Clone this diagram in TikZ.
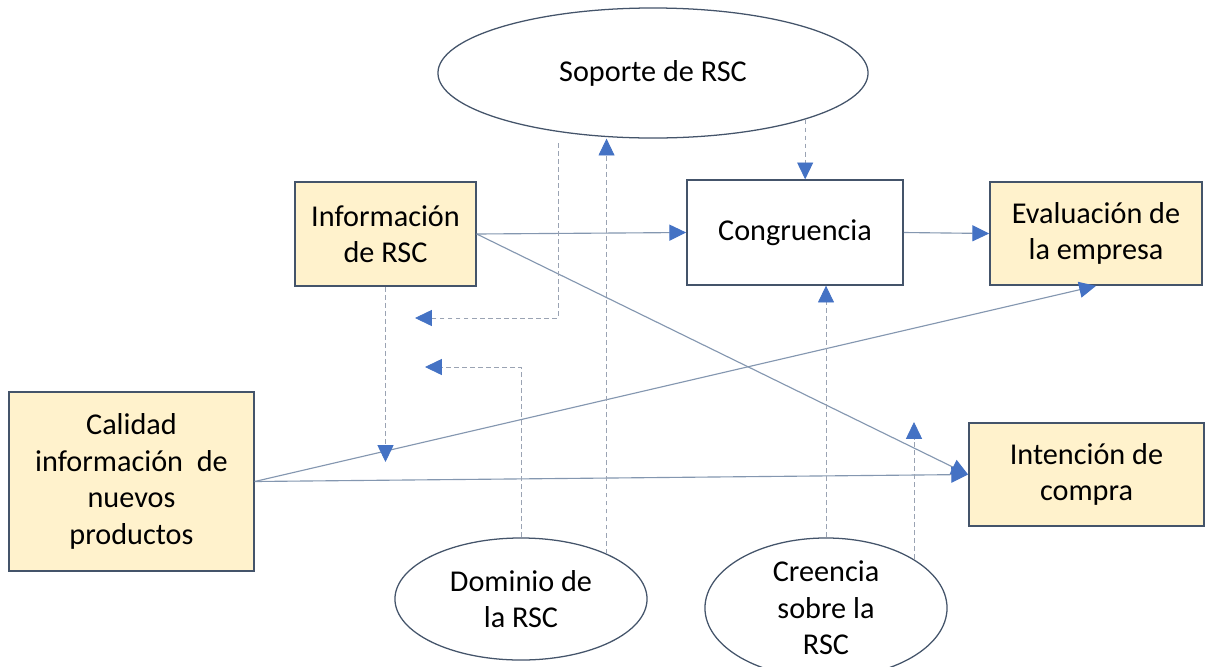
\documentclass[tikz,border=0pt]{standalone}
\usepackage{fontspec}
\setmainfont{Carlito}
\usetikzlibrary{arrows.meta,shapes.geometric}
\definecolor{boxfill}{HTML}{FFF2CC}
\definecolor{boxline}{HTML}{44546A}
\definecolor{linkline}{HTML}{8497B0}
\definecolor{dashline}{HTML}{9AA3B3}
\definecolor{tipblue}{HTML}{4472C4}
\tikzset{
	varbox/.style={draw=boxline, line width=1.1pt, fill=boxfill, align=center, inner sep=0pt, font=\fontsize{21.5}{26}\selectfont},
	whitebox/.style={varbox, fill=white},
	modoval/.style={ellipse, draw=boxline, line width=0.9pt, fill=white, align=center, inner sep=0pt, font=\fontsize{21.5}{26}\selectfont},
	link/.style={draw=linkline, line width=0.8pt, -{Triangle[length=0.42cm, width=0.4cm, color=tipblue]}},
	modlink/.style={link, draw=dashline, line width=0.6pt, dash pattern=on 3.5pt off 2.2pt}
}

\begin{document}
\begin{tikzpicture}[x=0.025cm, y=-0.025cm]
			%%%%% START %%%%%
			\useasboundingbox[fill=white] (0, 0) rectangle (1206, 666);
			
			\node[modoval, minimum width=10.75cm, minimum height=3.25cm] (sop) at (653, 73) {Soporte de RSC};
			\node[modoval, minimum width=6.3cm, minimum height=3.05cm] (dom) at (521, 599) {Dominio de\\la RSC};
			\node[modoval, minimum width=6.05cm, minimum height=3.5cm] (cre) at (826, 608) {Creencia\\sobre la\\RSC};
			
			\node[varbox, minimum width=4.52cm, minimum height=2.6cm] (info) at (385.5, 234) {Información\\de RSC};
			\node[whitebox, minimum width=5.4cm, minimum height=2.62cm] (cong) at (795, 232.5) {Congruencia};
			\node[varbox, minimum width=5.3cm, minimum height=2.58cm] (eval) at (1096, 233.5) {Evaluación de\\la empresa};
			\node[varbox, minimum width=6.12cm, minimum height=4.48cm] (cal) at (131.5, 481.5) {Calidad\\información~ de\\nuevos\\productos};
			\node[varbox, minimum width=5.88cm, minimum height=2.58cm] (int) at (1086.5, 474.5) {Intención de\\compra};
			
			% free ends of the dashed links
			\coordinate (sopbend) at (558, 318);
			\coordinate (soptip) at (415, 318);
			\coordinate (dombend) at (521, 367);
			\coordinate (domtip) at (425, 367);
			\coordinate (infotip) at (385.5, 462);
			\coordinate (cretip) at (913, 422);
			
			% direct effects
			\draw[link] (info.east) -- (cong.west);
			\draw[link] (cong.east) -- (eval.west);
			\draw[link] (info.east) -- (int.west);
			\draw[link] (cal.east) -- (eval.south);
			\draw[link] (cal.east) -- (int.west);
			
			% moderators
			\draw[modlink] (sop.-17) -- (sop.-17 |- cong.north);
			\draw[modlink] (sopbend |- 0, 143) -- (sopbend) -- (soptip);
			\draw[modlink] (dom.28) -- (dom.28 |- sop.south);
			\draw[modlink] (dom.north) -- (dombend) -- (domtip);
			\draw[modlink] (info.south) -- (infotip);
			\draw[modlink] (cre.north) -- (cre.north |- cong.south);
			\draw[modlink] (cre.29) -- (cre.29 |- cretip);
			
			%%%%% END %%%%%
\end{tikzpicture}
\end{document}
